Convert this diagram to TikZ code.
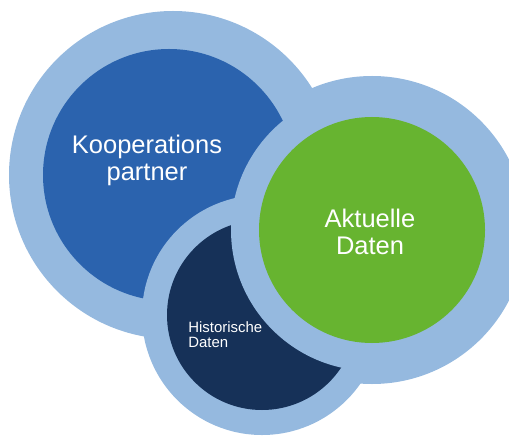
\documentclass[tikz,border=0pt]{standalone}
\usepackage{fontspec}
\setmainfont{Liberation Sans}

\definecolor{ringblue}{HTML}{95B9DF}
\definecolor{partnerblue}{HTML}{2B63AE}
\definecolor{aktuellgreen}{HTML}{67B430}
\definecolor{histnavy}{HTML}{163158}

\tikzset{
  bigtext/.style={text=white, align=center, inner sep=0pt,
    font=\fontsize{14.5}{15.4}\selectfont},
  smalltext/.style={text=white, align=left, inner sep=0pt,
    font=\fontsize{8.5}{8.6}\selectfont}
}

\begin{document}
\begin{tikzpicture}[x=0.02cm, y=-0.02cm]

    \useasboundingbox (0,0) rectangle (509,435);

    \coordinate (K) at (169,175);
    \coordinate (KO) at (173,175);
    \coordinate (A) at (372,230);
    \coordinate (H) at (262,315);

    % light rings behind everything
    \fill[ringblue] (KO) circle (164);
    \fill[ringblue] (A) circle (154);

    \fill[partnerblue] (K) circle (126);

    \fill[ringblue] (H) circle (120);
    \fill[histnavy] (H) circle (95);

    \fill[ringblue] (A) circle (141);
    \fill[aktuellgreen] (A) circle (113);

    \node[bigtext] (partner) at (147,160) {Kooperations\\partner};
    \node[bigtext] (aktuell) at (370,232) {Aktuelle\\Daten};
    \node[smalltext, anchor=west] (historisch) at (188,335) {Historische\\Daten};

\end{tikzpicture}
\end{document}
